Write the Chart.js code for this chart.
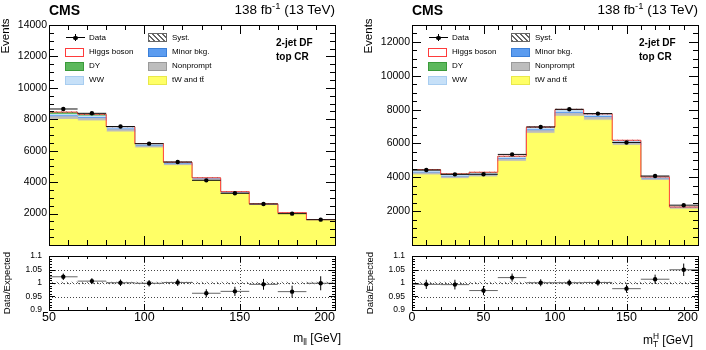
<!DOCTYPE html>
<html>
<head>
<meta charset="utf-8">
<script src="https://cdn.jsdelivr.net/npm/chart.js@4.4.0/dist/chart.umd.min.js"></script>
<style>
  body { margin: 0; width: 706px; height: 350px; position: relative; overflow: hidden; background: #fff;
         font-family: "Liberation Sans", Arial, sans-serif; color: #000; }
  canvas { position: absolute; }
  .txt { position: absolute; white-space: nowrap; line-height: 1; }
  .rot { position: absolute; white-space: nowrap; line-height: 1; transform: translate(-50%, -50%) rotate(-90deg); }
  .box { position: absolute; box-sizing: border-box; width: 19px; height: 9px; }
  sup { font-size: 0.7em; vertical-align: 0.5em; line-height: 0; }
  sub { font-size: 0.7em; vertical-align: -0.3em; line-height: 0; }
  .supsub { display: inline-block; font-size: 0.7em; line-height: 0.95; vertical-align: -0.35em; text-align: left; }
</style>
</head>
<body>
<canvas id="mainL" width="345" height="250" style="left:0;top:0"></canvas>
<canvas id="ratioL" width="345" height="100" style="left:0;top:250px"></canvas>
<canvas id="mainR" width="343" height="250" style="left:363px;top:0"></canvas>
<canvas id="ratioR" width="343" height="100" style="left:363px;top:250px"></canvas>
<div id="texts"></div>
<script>
// m_ll distribution (left)
const mllEdges = [50, 65, 80, 95, 110, 125, 140, 155, 170, 185, 200];
const mllData = [8655, 8380, 7540, 6450, 5280, 4115, 3290, 2610, 1995, 1612];
const mllDataErr = [93, 92, 87, 80, 73, 64, 57, 51, 45, 40];
const mllTopTT = [7990, 7894, 7190, 6176, 5049, 4105, 3255, 2515, 1976, 1549];
const mllNonprompt = [170, 160, 140, 115, 90, 70, 55, 42, 32, 25];
const mllMinor = [60, 55, 50, 42, 35, 28, 22, 17, 13, 10];
const mllWW = [90, 95, 90, 80, 68, 55, 45, 36, 29, 23];
const mllDY = [120, 90, 40, 25, 15, 10, 8, 6, 4, 3];
const mllHiggs = [30, 28, 22, 18, 14, 10, 8, 6, 5, 4];
const mllSyst = [0.005, 0.005, 0.005, 0.005, 0.005, 0.005, 0.005, 0.005, 0.005, 0.005];
const mllRatio = [1.023, 1.007, 1.001, 0.999, 1.002, 0.962, 0.969, 0.995, 0.968, 0.999];
const mllRatioErr = [0.012, 0.011, 0.012, 0.012, 0.013, 0.015, 0.017, 0.020, 0.022, 0.026];
const mllYTicks = [2000, 4000, 6000, 8000, 10000, 12000, 14000];
const mllXLabels = [50, 100, 150, 200];

// m_T^H distribution (right)
const mthEdges = [0, 20, 40, 60, 80, 100, 120, 140, 160, 180, 200];
const mthData = [4430, 4176, 4180, 5353, 6976, 8018, 7765, 6059, 4076, 2353];
const mthDataErr = [67, 65, 65, 73, 84, 90, 88, 78, 64, 49];
const mthTopTT = [4141, 3916, 4022, 4943, 6599, 7605, 7377, 5888, 3813, 2119];
const mthNonprompt = [110, 100, 100, 120, 150, 170, 160, 130, 90, 55];
const mthMinor = [40, 38, 38, 45, 55, 60, 55, 45, 30, 18];
const mthWW = [90, 80, 80, 95, 120, 130, 125, 105, 75, 45];
const mthDY = [60, 55, 45, 25, 15, 10, 8, 6, 4, 2];
const mthHiggs = [10, 12, 15, 20, 30, 35, 25, 15, 8, 4];
const mthSyst = [0.005, 0.005, 0.005, 0.005, 0.005, 0.005, 0.005, 0.005, 0.005, 0.005];
const mthRatio = [0.995, 0.994, 0.972, 1.020, 1.001, 1.001, 1.002, 0.979, 1.014, 1.049];
const mthRatioErr = [0.017, 0.018, 0.017, 0.015, 0.013, 0.012, 0.012, 0.015, 0.017, 0.023];
const mthYTicks = [2000, 4000, 6000, 8000, 10000, 12000];
const mthXLabels = [0, 50, 100, 150, 200];

const ratioYTicks = [0.9, 0.95, 1, 1.05, 1.1];
const legendLabels = ['Data', 'Higgs boson', 'DY', 'WW', 'Syst.', 'Minor bkg.', 'Nonprompt', 'tW and tt\u0304'];

const FONT = '"Liberation Sans", Arial, sans-serif';
Chart.defaults.font.family = FONT;
Chart.defaults.color = '#000';
Chart.defaults.animation = false;

const colors = {
  top: '#ffff66', nonprompt: '#bdbdbd', minor: '#5b9cf0', ww: '#c6e0f8', dy: '#5cb85c', higgs: '#ff4040'
};

function cumulate(parts) {
  const out = [];
  let run = parts[0].map(() => 0);
  for (const p of parts) {
    run = run.map((v, i) => v + p[i]);
    out.push(run);
  }
  return out;
}

function stepPoints(edges, vals) {
  return edges.map((e, i) => ({ x: e, y: vals[Math.min(i, vals.length - 1)] }));
}

function binCenters(edges) {
  const c = [];
  for (let i = 0; i < edges.length - 1; i++) {
    c.push((edges[i] + edges[i + 1]) / 2);
  }
  return c;
}

function makeHatch() {
  const c = document.createElement('canvas');
  c.width = 5;
  c.height = 5;
  const g = c.getContext('2d');
  g.strokeStyle = '#555';
  g.lineWidth = 0.8;
  g.beginPath();
  g.moveTo(0, 0); g.lineTo(5, 5);
  g.moveTo(-1, 4); g.lineTo(1, 6);
  g.moveTo(4, -1); g.lineTo(6, 1);
  g.stroke();
  return g.createPattern(c, 'repeat');
}

// data error bars, drawn just below the markers
function errorBarPlugin(edges, values, errors, hColor) {
  return {
    id: 'errorBars',
    beforeDatasetDraw(chart, args) {
      if (args.index !== 0) return;
      const { ctx, scales: { x, y } } = chart;
      ctx.save();
      ctx.lineWidth = 1;
      for (let i = 0; i < values.length; i++) {
        const py = y.getPixelForValue(values[i]);
        const xc = x.getPixelForValue((edges[i] + edges[i + 1]) / 2);
        ctx.strokeStyle = hColor;
        ctx.beginPath();
        ctx.moveTo(x.getPixelForValue(edges[i]), py);
        ctx.lineTo(x.getPixelForValue(edges[i + 1]), py);
        ctx.stroke();
        ctx.strokeStyle = '#000';
        ctx.beginPath();
        ctx.moveTo(xc, y.getPixelForValue(values[i] - errors[i]));
        ctx.lineTo(xc, y.getPixelForValue(values[i] + errors[i]));
        ctx.stroke();
      }
      ctx.restore();
    }
  };
}

// ROOT style frame with ticks on all four sides
function framePlugin(cfg) {
  return {
    id: 'rootFrame',
    beforeDatasetsDraw(chart) {
      if (!cfg.grid) return;
      const { ctx, chartArea: a, scales: { x, y } } = chart;
      ctx.save();
      ctx.strokeStyle = '#444';
      ctx.lineWidth = 1;
      ctx.setLineDash([1, 2]);
      for (const v of cfg.grid.y) {
        const py = Math.round(y.getPixelForValue(v)) + 0.5;
        ctx.beginPath(); ctx.moveTo(a.left, py); ctx.lineTo(a.right, py); ctx.stroke();
      }
      for (const v of cfg.grid.x) {
        const px = Math.round(x.getPixelForValue(v)) + 0.5;
        ctx.beginPath(); ctx.moveTo(px, a.top); ctx.lineTo(px, a.bottom); ctx.stroke();
      }
      ctx.restore();
    },
    afterDraw(chart) {
      const { ctx, chartArea: a, scales: { x, y } } = chart;
      ctx.save();
      ctx.strokeStyle = '#000';
      ctx.lineWidth = 1;
      const nx = Math.round((x.max - x.min) / cfg.xMinor);
      for (let i = 0; i <= nx; i++) {
        const v = x.min + i * cfg.xMinor;
        const major = Math.abs(v / cfg.xMajor - Math.round(v / cfg.xMajor)) < 1e-6;
        const len = major ? cfg.xLen[0] : cfg.xLen[1];
        const px = Math.round(x.getPixelForValue(v)) + 0.5;
        ctx.beginPath();
        ctx.moveTo(px, a.bottom); ctx.lineTo(px, a.bottom - len);
        ctx.moveTo(px, a.top); ctx.lineTo(px, a.top + len);
        ctx.stroke();
      }
      const ny = Math.round((y.max - y.min) / cfg.yMinor);
      for (let i = 0; i <= ny; i++) {
        const v = y.min + i * cfg.yMinor;
        const major = Math.abs(v / cfg.yMajor - Math.round(v / cfg.yMajor)) < 1e-6;
        const len = major ? cfg.yLen[0] : cfg.yLen[1];
        const py = Math.round(y.getPixelForValue(v)) + 0.5;
        ctx.beginPath();
        ctx.moveTo(a.left, py); ctx.lineTo(a.left + len, py);
        ctx.moveTo(a.right, py); ctx.lineTo(a.right - len, py);
        ctx.stroke();
      }
      ctx.strokeRect(Math.round(a.left) + 0.5, Math.round(a.top) + 0.5,
        Math.round(a.right - a.left), Math.round(a.bottom - a.top));
      if (cfg.xLabels) {
        ctx.fillStyle = '#000';
        ctx.font = '12.5px ' + FONT;
        ctx.textBaseline = 'middle';
        cfg.xLabels.forEach((v, i) => {
          const last = i === cfg.xLabels.length - 1;
          ctx.textAlign = last ? 'right' : 'center';
          ctx.fillText(String(v), x.getPixelForValue(v), a.bottom + 8);
        });
      }
      ctx.restore();
    }
  };
}

function yAxisFit(width) {
  return function(scale) {
    scale.width = width;
    scale.paddingTop = 0;
    scale.paddingBottom = 0;
  };
}

function fixedTicks(values) {
  return function(scale) {
    scale.ticks = values.map(v => ({ value: v }));
  };
}

function buildMain(id, p) {
  const cum = cumulate([p.top, p.nonprompt, p.minor, p.ww, p.dy, p.higgs]);
  const total = cum[5];
  const centers = binCenters(p.edges);
  const hatch = makeHatch();
  const step = (vals, color, fill) => ({
    data: stepPoints(p.edges, vals), stepped: 'before', pointRadius: 0,
    borderWidth: 1, borderColor: color, backgroundColor: color, fill: fill
  });
  const datasets = [
    { data: centers.map((c, i) => ({ x: c, y: p.data[i] })), showLine: false,
      pointRadius: 2.2, pointBackgroundColor: '#000', pointBorderWidth: 0 },
    { data: stepPoints(p.edges, total.map((v, i) => v * (1 + p.syst[i]))), stepped: 'before',
      pointRadius: 0, borderWidth: 1, borderColor: 'rgba(0,0,0,0)', backgroundColor: hatch, fill: '+1' },
    { data: stepPoints(p.edges, total.map((v, i) => v * (1 - p.syst[i]))), stepped: 'before',
      pointRadius: 0, borderWidth: 1, borderColor: 'rgba(0,0,0,0)', fill: false },
    { data: stepPoints(p.edges, total), stepped: 'before', pointRadius: 0,
      borderWidth: 1, borderColor: colors.higgs, fill: false },
    step(cum[0], colors.top, 'origin'),
    step(cum[1], colors.nonprompt, 'origin'),
    step(cum[2], colors.minor, 'origin'),
    step(cum[3], colors.ww, 'origin'),
    step(cum[4], colors.dy, 'origin')
  ];
  return new Chart(document.getElementById(id), {
    type: 'line',
    data: { datasets: datasets },
    options: {
      responsive: false,
      devicePixelRatio: 1,
      events: [],
      layout: { padding: { top: 25, right: p.padRight, bottom: 5, left: 0 } },
      plugins: { legend: { display: false }, tooltip: { enabled: false } },
      scales: {
        x: { type: 'linear', min: p.edges[0], max: p.edges[p.edges.length - 1], display: false },
        y: {
          min: 0, max: p.yMax,
          grid: { display: false, drawTicks: false }, border: { display: false },
          ticks: { autoSkip: false, padding: 2, font: { size: 10.5 }, color: '#000',
            callback: v => String(v) },
          afterBuildTicks: fixedTicks(p.yTicks),
          afterFit: yAxisFit(49)
        }
      }
    },
    plugins: [
      errorBarPlugin(p.edges, p.data, p.dataErr, '#111'),
      framePlugin({ xMinor: 10, xMajor: 50, xLen: [9, 5], yMinor: 500, yMajor: 2000, yLen: [9, 5] })
    ]
  });
}

function buildRatio(id, p) {
  const centers = binCenters(p.edges);
  const hatch = makeHatch();
  const datasets = [
    { data: centers.map((c, i) => ({ x: c, y: p.ratio[i] })), showLine: false,
      pointRadius: 2.2, pointBackgroundColor: '#000', pointBorderWidth: 0 },
    { data: stepPoints(p.edges, p.syst.map(s => 1 + s)), stepped: 'before', pointRadius: 0,
      borderWidth: 1, borderColor: 'rgba(0,0,0,0)', backgroundColor: hatch, fill: '+1' },
    { data: stepPoints(p.edges, p.syst.map(s => 1 - s)), stepped: 'before', pointRadius: 0,
      borderWidth: 1, borderColor: 'rgba(0,0,0,0)', fill: false }
  ];
  return new Chart(document.getElementById(id), {
    type: 'line',
    data: { datasets: datasets },
    options: {
      responsive: false,
      devicePixelRatio: 1,
      events: [],
      layout: { padding: { top: 6, right: p.padRight, bottom: 40, left: 0 } },
      plugins: { legend: { display: false }, tooltip: { enabled: false } },
      scales: {
        x: { type: 'linear', min: p.edges[0], max: p.edges[p.edges.length - 1], display: false },
        y: {
          min: 0.9, max: 1.1,
          grid: { display: false, drawTicks: false }, border: { display: false },
          ticks: { autoSkip: false, padding: 7, font: { size: 8.5 }, color: '#000',
            callback: v => String(v) },
          afterBuildTicks: fixedTicks(ratioYTicks),
          afterFit: yAxisFit(49)
        }
      }
    },
    plugins: [
      errorBarPlugin(p.edges, p.ratio, p.ratioErr, '#666'),
      framePlugin({ xMinor: 10, xMajor: 50, xLen: [6, 3], yMinor: 0.01, yMajor: 0.05, yLen: [6, 3],
        grid: { y: [0.95, 1, 1.05], x: p.gridX }, xLabels: p.xLabels })
    ]
  });
}

buildMain('mainL', { edges: mllEdges, data: mllData, dataErr: mllDataErr, top: mllTopTT,
  nonprompt: mllNonprompt, minor: mllMinor, ww: mllWW, dy: mllDY, higgs: mllHiggs,
  syst: mllSyst, yMax: 14000, yTicks: mllYTicks, padRight: 10 });
buildRatio('ratioL', { edges: mllEdges, ratio: mllRatio, ratioErr: mllRatioErr, syst: mllSyst,
  padRight: 10, gridX: [100, 150], xLabels: mllXLabels });
buildMain('mainR', { edges: mthEdges, data: mthData, dataErr: mthDataErr, top: mthTopTT,
  nonprompt: mthNonprompt, minor: mthMinor, ww: mthWW, dy: mthDY, higgs: mthHiggs,
  syst: mthSyst, yMax: 13000, yTicks: mthYTicks, padRight: 8 });
buildRatio('ratioR', { edges: mthEdges, ratio: mthRatio, ratioErr: mthRatioErr, syst: mthSyst,
  padRight: 8, gridX: [50, 100, 150], xLabels: mthXLabels });

// texts and legends
const legendStyles = [
  null,
  'background:#fff;border:1.5px solid #ff3b3b',
  'background:#5cb85c;border:1px solid #3a9a3a',
  'background:#c6e0f8;border:1px solid #a8cdf0',
  'background:repeating-linear-gradient(45deg,#666 0 1px,#fff 1px 3.5px);border:1px solid #666',
  'background:#5b9cf0;border:1px solid #3b7fd8',
  'background:#bdbdbd;border:1px solid #9a9a9a',
  'background:#ffff66;border:1px solid #e8e84a'
];

function addPanelTexts(off, plotRight, xTitle, xTitleRight) {
  let html = '';
  html += `<div class="txt" style="left:${off + 49}px;top:3px;font-size:14px;font-weight:bold">CMS</div>`;
  html += `<div class="txt" style="right:${706 - plotRight}px;top:3px;font-size:13.5px">138 fb<sup>-1</sup> (13 TeV)</div>`;
  html += `<div class="rot" style="left:${off + 5.5}px;top:36px;font-size:11.5px">Events</div>`;
  html += `<div class="rot" style="left:${off + 6.5}px;top:283px;font-size:9.5px">Data/Expected</div>`;
  html += `<div class="txt" style="right:${706 - xTitleRight}px;top:332px;font-size:12px">${xTitle}</div>`;
  html += `<div class="txt" style="left:${off + 276}px;top:38px;font-size:10px;font-weight:bold">2-jet DF</div>`;
  html += `<div class="txt" style="left:${off + 276}px;top:52px;font-size:10px;font-weight:bold">top CR</div>`;
  const rows = [37.7, 52.3, 66, 80.3];
  const boxX = [65, 148];
  const textX = [89, 172];
  legendLabels.forEach((label, k) => {
    const col = Math.floor(k / 4);
    const cy = rows[k % 4];
    const bx = off + boxX[col];
    if (k === 0) {
      html += `<div style="position:absolute;left:${bx + 1}px;top:${cy - 0.5}px;width:19px;height:1px;background:#000"></div>`;
      html += `<div style="position:absolute;left:${bx + 10}px;top:${cy - 3.5}px;width:1px;height:7px;background:#000"></div>`;
      html += `<div style="position:absolute;left:${bx + 8.3}px;top:${cy - 2.2}px;width:4.4px;height:4.4px;border-radius:50%;background:#000"></div>`;
    } else {
      html += `<div class="box" style="left:${bx}px;top:${cy - 4.5}px;${legendStyles[k]}"></div>`;
    }
    html += `<div class="txt" style="left:${off + textX[col]}px;top:${cy - 4}px;font-size:8px">${label}</div>`;
  });
  return html;
}

document.getElementById('texts').innerHTML =
  addPanelTexts(0, 335, 'm<sub>ll</sub> [GeV]', 341) +
  addPanelTexts(363, 698, 'm<span class="supsub">H<br>T</span> [GeV]', 693);
</script>
</body>
</html>
